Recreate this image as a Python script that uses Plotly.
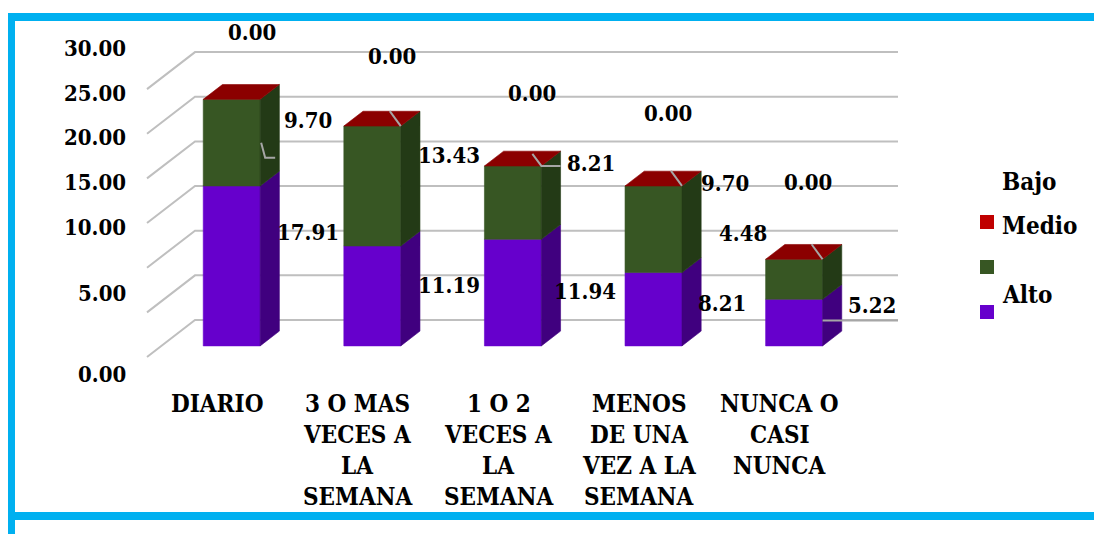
import plotly.graph_objects as go

# ---- data -------------------------------------------------------------
CATEGORIAS = [
    "DIARIO",
    "3 O MAS<br>VECES A<br>LA<br>SEMANA",
    "1 O 2<br>VECES A<br>LA<br>SEMANA",
    "MENOS<br>DE UNA<br>VEZ A LA<br>SEMANA",
    "NUNCA O<br>CASI<br>NUNCA",
]
ALTO = [17.91, 11.19, 11.94, 8.21, 5.22]
MEDIO = [9.70, 13.43, 8.21, 9.70, 4.48]
BAJO = [0.00, 0.00, 0.00, 0.00, 0.00]
SERIES = ["Bajo", "Medio", "Alto"]
Y_TICKS = [0, 5, 10, 15, 20, 25, 30]

# ---- layout / styling ---------------------------------------------------
W, H = 1094, 534
FONT = "DejaVu Serif Condensed, DejaVu Serif"
FS_NUM = 22     # numbers (value labels, axis labels)
FS_TXT = 24     # words (categories, legend)

# pixel geometry of the pseudo-3D plot area
X0_PX = 147.0        # front-left corner of the floor
CAT_PX = 140.6       # width of one category slot
Y0_PX = 357.0        # front edge of the floor (value 0)
PPU = 8.93           # pixels per value unit
DX = 48.0 / CAT_PX   # full depth, horizontal component (category units)
DY = 37.0 / PPU      # full depth, vertical component (value units)
D0, D1 = 0.30, 0.70  # depth span occupied by the bars
HW = 0.2025          # half bar width (category units)

COL = {
    "Alto": ("#6600CC", "#40007F"),
    "Medio": ("#375623", "#233A16"),
    "Bajo": ("#8B0000", "#5E0000"),
}
LEGEND_COL = {"Bajo": "#C00000", "Medio": "#375623", "Alto": "#6600CC"}
GRID = "#BFBFBF"
FRAME = "#00B0F0"

# label centres (pixels) for each series, per category
LABEL_PX = {
    "Bajo": [(252, 32), (392, 56), (532, 93), (668, 113), (808, 182)],
    "Medio": [(308, 120), (449, 155), (591, 163), (725, 183), (743, 233)],
    "Alto": [(308, 232), (449, 285), (585, 291), (722, 303), (872, 305)],
}
TICK_NUDGE_PX = {0: 58, 5: 22}
LEGEND_TEXT_Y = {"Bajo": 181, "Medio": 226, "Alto": 294}
LEGEND_BOX_Y = {"Bajo": 215, "Medio": 260, "Alto": 305}


def px_x(px):
    return (px - X0_PX) / CAT_PX - 0.5


def px_y(py):
    return (Y0_PX - py) / PPU


def proj(x, v, d):
    return x + d * DX, v + d * DY


def poly(points, color):
    xs, ys = zip(*points)
    return go.Scatter(
        x=list(xs) + [xs[0]], y=list(ys) + [ys[0]], mode="lines",
        fill="toself", fillcolor=color,
        line=dict(color=color, width=0.6),
        hoverinfo="skip", showlegend=False,
    )


def bold(s):
    return f"<b>{s}</b>"


fig = go.Figure()

# back-wall / floor gridlines
n = len(CATEGORIAS)
gx, gy = [], []
for v in Y_TICKS:
    gx += [-0.5, -0.5 + DX, n - 0.5 + DX, None]
    gy += [v, v + DY, v + DY, None]
fig.add_trace(go.Scatter(x=gx, y=gy, mode="lines",
                         line=dict(color=GRID, width=2),
                         hoverinfo="skip", showlegend=False))

# stacked 3D columns
for i in range(n):
    xl, xr = i - HW, i + HW
    base = 0.0
    for name, vals in (("Alto", ALTO), ("Medio", MEDIO), ("Bajo", BAJO)):
        top = base + vals[i]
        front, side = COL[name]
        if vals[i] > 0:
            fig.add_trace(poly([proj(xl, base, D0), proj(xr, base, D0),
                                proj(xr, top, D0), proj(xl, top, D0)], front))
            fig.add_trace(poly([proj(xr, base, D0), proj(xr, base, D1),
                                proj(xr, top, D1), proj(xr, top, D0)], side))
        base = top
    # top face takes the colour of the uppermost series
    fig.add_trace(poly([proj(xl, base, D0), proj(xr, base, D0),
                        proj(xr, base, D1), proj(xl, base, D1)], COL["Bajo"][0]))

# leader lines
lead_x, lead_y = [], []
for i in range(1, n):
    total = ALTO[i] + MEDIO[i] + BAJO[i]
    cx, cy = proj(i + HW, total, D0)
    if i == 2:
        lead_x += [cx - 9 / CAT_PX, cx, cx + (D1 - D0) * DX, None]
        lead_y += [cy + 12 / PPU, cy, cy, None]
    else:
        lead_x += [cx - 11 / CAT_PX, cx, None]
        lead_y += [cy + 15 / PPU, cy, None]
# Medio label of the first column
ax_, ay_ = proj(HW, ALTO[0] + MEDIO[0] / 2, D0)
ax_ += 1 / CAT_PX
lead_x += [ax_, ax_ + 4 / CAT_PX, ax_ + 14 / CAT_PX, None]
lead_y += [ay_, ay_ - 15 / PPU, ay_ - 15 / PPU, None]
# Alto label of the last column
bx_, by_ = proj(n - 1 + HW, ALTO[-1] / 2, D0)
lead_x += [bx_, n - 0.5 + DX, None]
lead_y += [by_ + 2 / PPU, by_ + 2 / PPU, None]
fig.add_trace(go.Scatter(x=lead_x, y=lead_y, mode="lines",
                         line=dict(color="#A6A6A6", width=2),
                         hoverinfo="skip", showlegend=False))

annotations = []
num_font = dict(family=FONT, size=FS_NUM, color="#000000")
txt_font = dict(family=FONT, size=FS_TXT, color="#000000")

# value labels
for name, vals in (("Bajo", BAJO), ("Medio", MEDIO), ("Alto", ALTO)):
    for i, v in enumerate(vals):
        lx, ly = LABEL_PX[name][i]
        annotations.append(dict(x=lx / W, y=1 - ly / H, xref="paper", yref="paper",
                                text=bold(f"{v:.2f}"), showarrow=False, font=num_font,
                                xanchor="center", yanchor="middle"))

# value-axis labels
for v in Y_TICKS:
    py = Y0_PX - DY * PPU - v * PPU - 4 + TICK_NUDGE_PX.get(v, 0)
    annotations.append(dict(x=128 / W, y=1 - py / H, xref="paper", yref="paper",
                            text=bold(f"{v:.2f}"), showarrow=False, font=num_font,
                            xanchor="right", yanchor="middle"))

# category labels, one line at a time
for i, cat in enumerate(CATEGORIAS):
    for k, line in enumerate(cat.split("<br>")):
        py = 403 + 31 * k
        annotations.append(dict(x=i, y=1 - py / H, xref="x", yref="paper",
                                text=bold(line), showarrow=False, font=txt_font,
                                xanchor="center", yanchor="middle"))

# legend
shapes = []
for name in SERIES:
    annotations.append(dict(x=1000 / W, y=1 - LEGEND_TEXT_Y[name] / H,
                            xref="paper", yref="paper", text=bold(name),
                            showarrow=False, font=txt_font,
                            xanchor="left", yanchor="middle"))
    by = LEGEND_BOX_Y[name]
    shapes.append(dict(type="rect", xref="paper", yref="paper",
                       x0=980 / W, x1=994 / W, y0=1 - (by + 14) / H, y1=1 - by / H,
                       fillcolor=LEGEND_COL[name], line=dict(width=0)))

# frame
for x0, y0, x1, y1 in ((8, 13, W, 21), (8, 13, 15, H), (8, 512, W, 520)):
    shapes.append(dict(type="rect", xref="paper", yref="paper",
                       x0=x0 / W, x1=x1 / W, y0=1 - y1 / H, y1=1 - y0 / H,
                       fillcolor=FRAME, line=dict(width=0)))

fig.update_layout(
    width=W, height=H,
    margin=dict(l=0, r=0, t=0, b=0),
    paper_bgcolor="white", plot_bgcolor="white",
    font=dict(family=FONT),
    xaxis=dict(range=[px_x(0), px_x(W)], visible=False, fixedrange=True),
    yaxis=dict(range=[px_y(H), px_y(0)], visible=False, fixedrange=True),
    annotations=annotations, shapes=shapes,
    showlegend=False,
)

fig.write_html("out.html")
